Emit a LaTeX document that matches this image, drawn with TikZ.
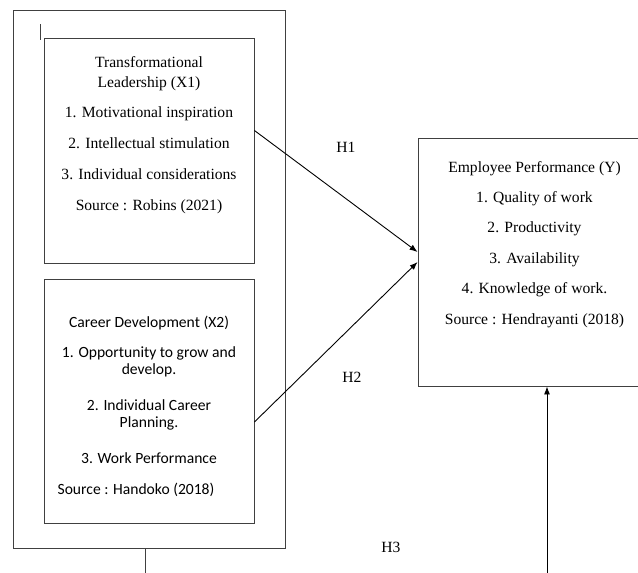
\documentclass[tikz,border=0pt]{standalone}
\usepackage{fontspec}
\setmainfont{Liberation Serif}
\newfontfamily\calibrifont{Carlito}
\usepackage{tikz}
\usetikzlibrary{calc, positioning, arrows.meta}

\tikzset{
    khung/.style={draw=black!75, line width=0.9pt, inner sep=0pt},
    dong/.style={anchor=base, inner sep=0pt, font=\fontsize{15.6}{20}\selectfont},
    nhan/.style={anchor=base, inner sep=0pt, font=\fontsize{15.6}{20}\selectfont}
}

\begin{document}
\begin{tikzpicture}[>={Latex[length=8pt,width=6pt]}, x=1pt, y=-1pt]
    \useasboundingbox (0,0) rectangle (638,573);

    % Các khung
    \node[khung, minimum width=272pt, minimum height=538pt] (outer) at (149,279) {};
    \node[khung, minimum width=210pt, minimum height=225pt] (xone) at (149,150.5) {};
    \node[khung, minimum width=210pt, minimum height=244pt] (xtwo) at (149,401) {};
    \node[khung, minimum width=242pt, minimum height=248pt] (yperf) at (539,262) {};
    \draw[black!75, line width=0.9pt] (40,24) -- (40,40);

    % Nội dung khung X1
    \foreach \y/\txt [count=\i] in {67/Transformational, 87/Leadership (X1),
        117/1. Motivational inspiration, 148/2. Intellectual stimulation,
        179/3. Individual considerations, 210/Source : Robins (2021)} {
        \node[dong] (xone-\i) at (149,\y) {\txt};
    }

    % Nội dung khung X2
    \foreach \y/\txt [count=\i] in {327/Career Development (X2),
        357/1. Opportunity to grow and, 374/develop.,
        410/2. Individual Career, 427/Planning., 463/3. Work Performance} {
        \node[dong, font=\fontsize{15.6}{20}\calibrifont] (xtwo-\i) at (149,\y) {\txt};
    }
    \node[dong, font=\fontsize{15.6}{20}\calibrifont] (xtwo-src) at (136,494) {Source : Handoko (2018)};

    % Nội dung khung Y
    \foreach \y/\txt [count=\i] in {172/Employee Performance (Y), 202/1. Quality of work,
        232/2. Productivity, 263/3. Availability, 293/4. Knowledge of work.,
        324/Source : Hendrayanti (2018)} {
        \node[dong] (yperf-\i) at (534.5,\y) {\txt};
    }

    % Mũi tên và nhãn
    \draw[->, line width=0.9pt] ([yshift=20pt]xone.east) -- ([yshift=10pt]yperf.west);
    \draw[->, line width=0.9pt] ([yshift=-21pt]xtwo.east) -- (yperf.west);
    \coordinate (h3start) at (547,573);
    \draw[->, line width=0.9pt] (h3start) -- (h3start |- yperf.south);
    \coordinate (tail) at (145,573);
    \draw[black!75, line width=0.9pt] (tail |- outer.south) -- (tail);

    \node[nhan] (h1) at (346,152) {H1};
    \node[nhan] (h2) at (352,382) {H2};
    \node[nhan] (h3) at (391,552) {H3};
\end{tikzpicture}
\end{document}
